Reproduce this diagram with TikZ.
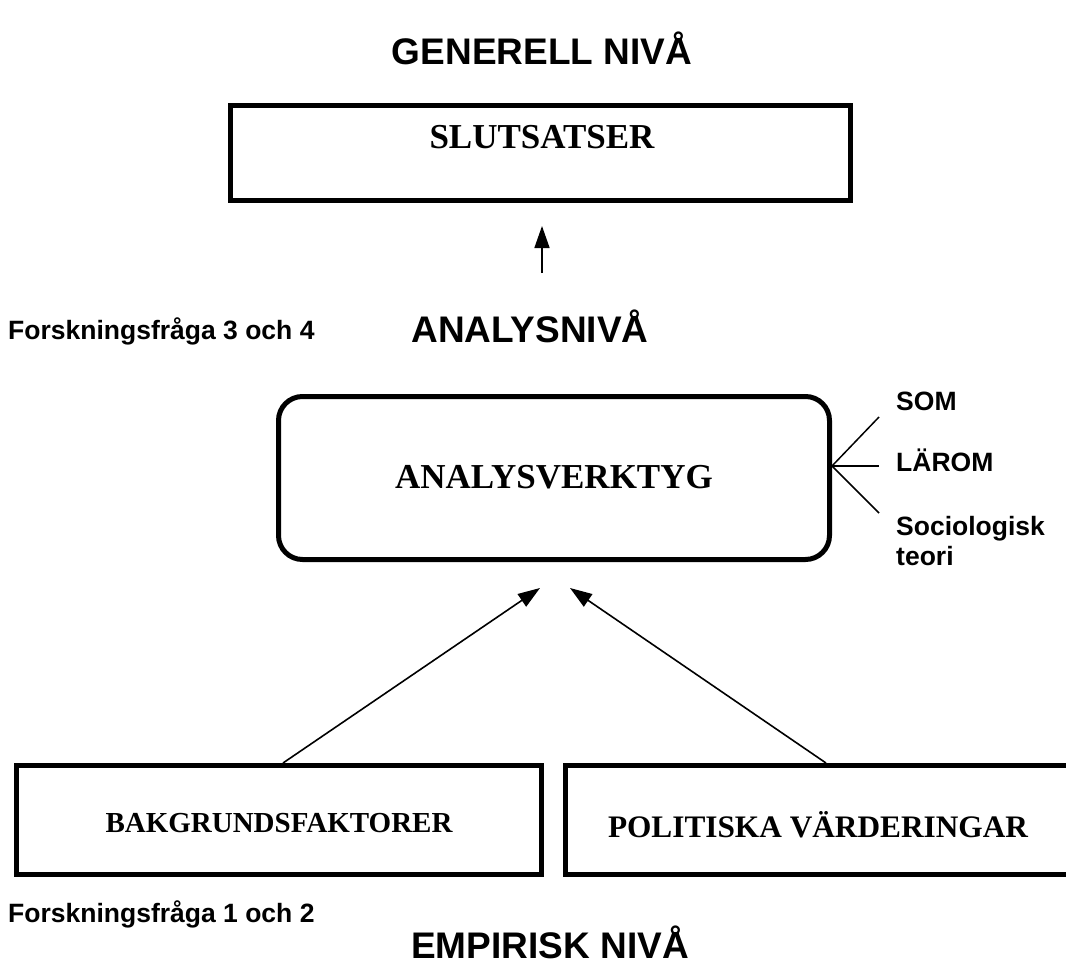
\documentclass[tikz,border=0pt]{standalone}
\usepackage{fontspec}
\setmainfont{Liberation Serif}
\newfontfamily\arialf{Liberation Sans}
\usetikzlibrary{arrows.meta,calc}
\begin{document}
\begin{tikzpicture}[x=1pt,y=-1pt,
  heavybox/.style={draw,line width=5pt,inner sep=0pt},
  conn/.style={line width=1.6pt,-{Triangle[length=22pt,width=15pt]}},
  thin/.style={line width=1.5pt},
  level/.style={font=\arialf\bfseries\fontsize{37}{44}\selectfont,anchor=base,inner sep=0pt},
  side/.style={font=\arialf\bfseries\fontsize{26.5}{30}\selectfont,anchor=base west,inner sep=0pt},
  boxtext/.style={font=\bfseries\fontsize{35}{42}\selectfont,anchor=base,inner sep=0pt}]
\clip (0,0) rectangle (1066,967);
\fill[white] (0,0) rectangle (1066,967);

% titles
\node[level] (gen) at (542,64) {GENERELL NIVÅ};
\node[level] (ana) at (530,342) {ANALYSNIVÅ};
\node[level] (emp) at (550,958) {EMPIRISK NIVÅ};

\node[side] (fq34) at (8,339) {Forskningsfråga 3 och 4};
\node[side] (fq12) at (8,922) {Forskningsfråga 1 och 2};

% SLUTSATSER
\node[heavybox,minimum width=620pt,minimum height=95pt] (slut) at (540.5,153) {};
\node[boxtext] (slutt) at (542,148) {SLUTSATSER};
\coordinate (upfrom) at ($(slut.south)+(1.5,70)$);
\coordinate (upto) at ($(slut.south)+(1.5,23)$);
\draw[conn] (upfrom) -- (upto);

% ANALYSVERKTYG
\node[heavybox,rounded corners=24pt,minimum width=551pt,minimum height=163pt] (verk) at (554,478) {};
\node[boxtext] (verkt) at (554,488) {ANALYSVERKTYG};

% theories
\coordinate (fan) at ($(verk.east)+(0,-12)$);
\coordinate (f1) at (879,417);
\coordinate (f2) at (879,466);
\coordinate (f3) at (879,513);
\draw[thin] (fan) -- (f1);
\draw[thin] (fan) -- (f2);
\draw[thin] (fan) -- (f3);
\node[side] (som) at (896,410) {SOM};
\node[side] (larom) at (896,471) {LÄROM};
\node[side,align=left,anchor=north west] (soc) at (896,516) {Sociologisk\\teori};

% bottom boxes
\node[heavybox,minimum width=525pt,minimum height=109pt] (bak) at (279,820) {};
\node[font=\bfseries\fontsize{29}{34}\selectfont,anchor=base,inner sep=0pt] (bakt) at (279,832) {BAKGRUNDSFAKTORER};
\node[heavybox,minimum width=540pt,minimum height=109pt] (pol) at (835.5,820) {};
\node[font=\bfseries\fontsize{31.3}{37}\selectfont,anchor=base,inner sep=0pt] (polt) at (818,837) {POLITISKA VÄRDERINGAR};

\coordinate (tipL) at (540,588);
\coordinate (tipR) at (570,588);
\draw[conn] (bak.north -| 283,0) -- (tipL);
\draw[conn] (pol.north -| 826,0) -- (tipR);
\end{tikzpicture}
\end{document}
